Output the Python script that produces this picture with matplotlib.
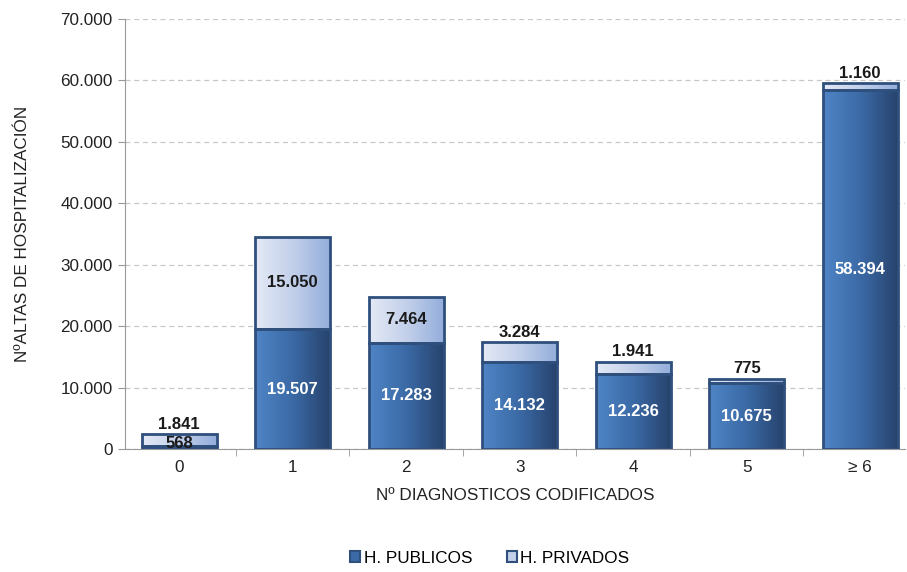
import numpy as np
import matplotlib.pyplot as plt
from matplotlib.colors import LinearSegmentedColormap
from matplotlib.patches import Rectangle

plt.rcParams['font.family'] = ['Liberation Sans', 'DejaVu Sans']

# datos
categorias = ["0", "1", "2", "3", "4", "5", "\u2265 6"]
publicos = [568, 19507, 17283, 14132, 12236, 10675, 58394]
privados = [1841, 15050, 7464, 3284, 1941, 775, 1160]
yticks = [0, 10000, 20000, 30000, 40000, 50000, 60000, 70000]


def fmt(v):
    return f"{v:,}".replace(",", ".")


cmap_pub = LinearSegmentedColormap.from_list("pub", ["#4f85c6", "#3b6aa6", "#27436d"])
cmap_priv = LinearSegmentedColormap.from_list("priv", ["#e4eaf5", "#c3d0ea", "#93aedb"])
borde = "#2f4f7d"
fs = 12.3

fig = plt.figure(figsize=(9.07, 5.72), dpi=100)
ax = fig.add_axes([0.138, 0.215, 0.86, 0.752])

x = np.arange(len(categorias))
ancho = 0.66
grad = np.linspace(0, 1, 256).reshape(1, -1)

barras_pub = ax.bar(x, publicos, width=ancho, color="none", edgecolor=borde, linewidth=2, zorder=3)
barras_priv = ax.bar(x, privados, bottom=publicos, width=ancho, color="none", edgecolor=borde, linewidth=2, zorder=3)

for barras, cmap in ((barras_pub, cmap_pub), (barras_priv, cmap_priv)):
    for b in barras:
        x0, y0 = b.get_x(), b.get_y()
        w, h = b.get_width(), b.get_height()
        im = ax.imshow(grad, cmap=cmap, aspect="auto", extent=(x0, x0 + w, y0, y0 + h), zorder=2)
        clip = Rectangle((x0, y0), w, h, transform=ax.transData)
        im.set_clip_path(clip)

# etiquetas
for i, (p, q) in enumerate(zip(publicos, privados)):
    col = "white" if p > 3000 else "#1a1a1a"
    ax.text(i, max(p / 2, 900), fmt(p), ha="center", va="center", fontsize=12, fontweight="bold", color=col, zorder=5)
    if q > 5000:
        ax.text(i, p + q / 2, fmt(q), ha="center", va="center", fontsize=12, fontweight="bold", color="#1a1a1a", zorder=5)
    else:
        ax.text(i, p + q + 400, fmt(q), ha="center", va="bottom", fontsize=12, fontweight="bold", color="#1a1a1a", zorder=5)

ax.set_xlim(-0.476, 6.396)
ax.set_ylim(0, 70000)
ax.set_yticks(yticks)
ax.set_yticklabels([fmt(v) for v in yticks], fontsize=fs, color="#222222")
ax.set_xticks(x)
ax.set_xticklabels(categorias, fontsize=fs, color="#222222")
ax.set_xticks(np.arange(0.5, 6.5, 1), minor=True)
ax.tick_params(axis="x", which="major", length=0, pad=8)
ax.tick_params(axis="x", which="minor", length=5, color="#999999")
ax.tick_params(axis="y", length=5, color="#999999", pad=4)

ax.grid(axis="y", linestyle=(0, (4, 3)), color="#c8c8c8", linewidth=0.9, zorder=0)
for s in ("top", "right"):
    ax.spines[s].set_visible(False)
for s in ("left", "bottom"):
    ax.spines[s].set_color("#999999")

ax.set_ylabel("N\u00baALTAS DE HOSPITALIZACI\u00d3N", fontsize=fs, color="#222222", labelpad=22)
ax.set_xlabel("N\u00ba DIAGNOSTICOS CODIFICADOS", fontsize=fs, color="#222222", labelpad=9)

h1 = Rectangle((0, 0), 1, 1, facecolor="#3b6aa6", edgecolor=borde, linewidth=1.5)
h2 = Rectangle((0, 0), 1, 1, facecolor="#c3d0ea", edgecolor=borde, linewidth=1.5)
fig.legend([h1, h2], ["H. PUBLICOS", "H. PRIVADOS"], loc="center", bbox_to_anchor=(0.54, 0.024),
           ncol=2, frameon=False, fontsize=fs, handlelength=0.6, handleheight=0.6,
           handletextpad=0.2, columnspacing=2.0)

fig.savefig("out.png", dpi=100)
